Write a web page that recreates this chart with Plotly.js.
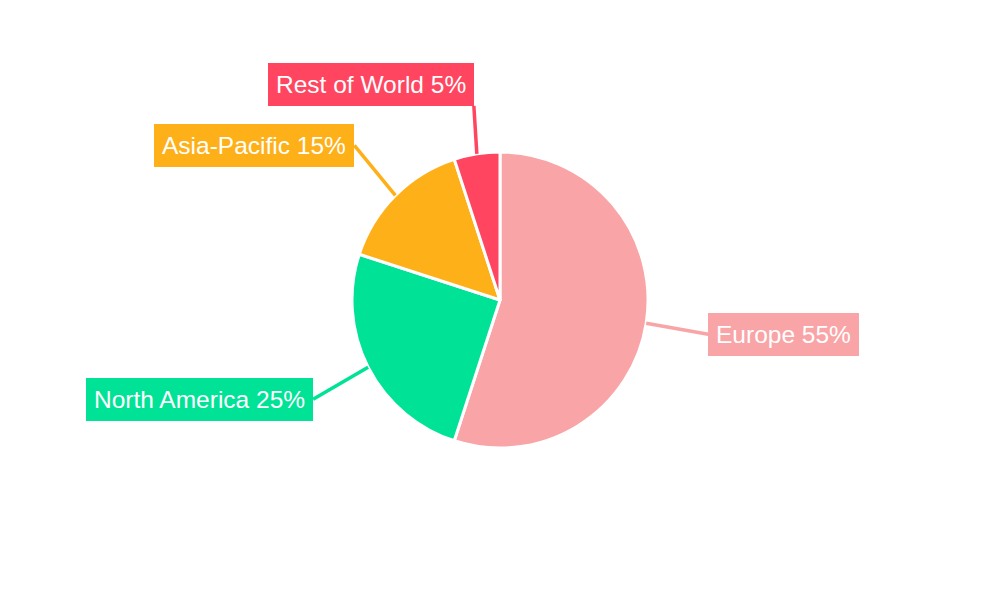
<!DOCTYPE html>
<html>
<head>
<meta charset="utf-8">
<script src="https://cdn.plot.ly/plotly-3.0.1.min.js"></script>
<style>html,body{margin:0;padding:0;background:#fff;}#chart{width:1000px;height:600px;}</style>
</head>
<body>
<div id="chart"></div>
<script>
const labels = ["Europe", "North America", "Asia-Pacific", "Rest of World"];
const values = [55, 25, 15, 5];
const colors = ["#F9A4A6", "#00E396", "#FEB019", "#FF4560"];
// label offsets (pixels) from the slice edge to the label box, and anchors
const offX = [62, -55, -41, -3];
const offY = [11, 32, -50, -48];
const anchX = ["left", "right", "right", "right"];
const anchY = ["middle", "middle", "middle", "bottom"];

const W = 1000, H = 600;
const domY = [0.2533, 0.7467];
const radius = (domY[1] - domY[0]) * H / 2;
const cx = 0.5, cy = (domY[0] + domY[1]) / 2;
const total = values.reduce((a, b) => a + b, 0);

let cum = 0;
const annotations = values.map((v, i) => {
  const mid = (cum + v / 2) / total * 2 * Math.PI;
  cum += v;
  const px = cx + radius * Math.sin(mid) / W;
  const py = cy + radius * Math.cos(mid) / H;
  return {
    xref: "paper", yref: "paper", x: px, y: py,
    text: labels[i] + " " + v + "%",
    showarrow: true, arrowhead: 0, arrowwidth: 3.5, arrowcolor: colors[i],
    ax: offX[i], ay: offY[i], standoff: 0, startstandoff: 0,
    xanchor: anchX[i], yanchor: anchY[i],
    bgcolor: colors[i], borderpad: 8, borderwidth: 0,
    font: {family: "Liberation Sans, Arial, sans-serif", size: 24.5, color: "#ffffff"}
  };
});

const data = [{
  type: "pie",
  labels: labels,
  values: values,
  sort: false,
  direction: "clockwise",
  rotation: 0,
  marker: {colors: colors, line: {color: "#ffffff", width: 3}},
  textinfo: "none",
  hoverinfo: "label+percent",
  domain: {x: [0, 1], y: domY}
}];

const layout = {
  width: W, height: H,
  margin: {l: 0, r: 0, t: 0, b: 0},
  showlegend: false,
  paper_bgcolor: "#ffffff",
  annotations: annotations
};

Plotly.newPlot("chart", data, layout, {displayModeBar: false, staticPlot: true});
</script>
</body>
</html>
